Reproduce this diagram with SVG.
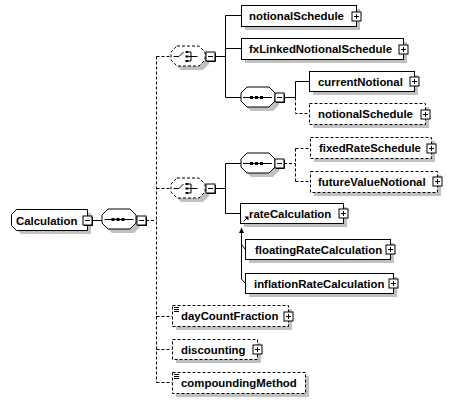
<svg xmlns="http://www.w3.org/2000/svg" xmlns:xlink="http://www.w3.org/1999/xlink" width="452" height="402" viewBox="0 0 452 402">
<style>
.box{fill:#fff;stroke:#000;stroke-width:1}
.opt{stroke-dasharray:3,2}
.sh{fill:#c0c0c0;stroke:none}
.ln{fill:none;stroke:#000;stroke-width:1}
.dl{fill:none;stroke:#000;stroke-width:1;stroke-dasharray:3,2}
.t{font-family:"Liberation Sans",Arial,sans-serif;font-weight:bold;font-size:11.4px;fill:#000}
</style>
<defs>
<g id="plus"><rect x="0.5" y="0.5" width="9" height="9" fill="#fff" stroke="#000"/><path d="M2.5,5H7.5M5,2.5V7.5" stroke="#000" fill="none"/></g>
<g id="minus"><rect x="0.5" y="0.5" width="9" height="9" fill="#fff" stroke="#000"/><path d="M2.5,5H7.5" stroke="#000" fill="none"/><path d="M10,1.5V10H1.5" stroke="#000" fill="none"/></g>
<path id="oct" d="M6.5,0.5H28.5L34.5,6.5V14.5L28.5,20.5H6.5L0.5,14.5V6.5Z"/>
<g id="seqicon"><path d="M3,10.5H32" stroke="#000" fill="none"/><rect x="10" y="9" width="3" height="3"/><rect x="15" y="9" width="3" height="3"/><rect x="20" y="9" width="3" height="3"/></g>
<g id="choiceicon"><path d="M3,10.5H8.5L13,6" stroke="#000" fill="none"/><rect x="15" y="5" width="3" height="2"/><rect x="15" y="9.5" width="3" height="2"/><rect x="15" y="14" width="3" height="2"/><path d="M18,6H20.5V15H18M18,10.5H27" stroke="#000" fill="none"/></g>
</defs>

<g id="connectors">
<path class="ln" d="M92,220.5H102"/>
<path class="dl" d="M146,220.5H156.5"/>
<path class="dl" d="M156.5,56.5V382.5"/>
<path class="dl" d="M156.5,56.5H171M156.5,188.5H171M156.5,316.5H172M156.5,349.5H172M156.5,382.5H172"/>
<path class="ln" d="M215,56.5H225.5M225.5,15.5V97.5M225.5,15.5H241M225.5,48.5H241M225.5,97.5H241"/>
<path class="ln" d="M284,97.5H295.5V81.5H309"/>
<path class="dl" d="M295.5,97.5V113.5H309"/>
<path class="ln" d="M215,188.5H225.5M225.5,163.5V213.5H240M225.5,163.5H241"/>
<path class="dl" d="M284,163.5H295.5M295.5,148.5V181.5M295.5,148.5H310M295.5,181.5H310"/>
<path class="ln" d="M241.5,232V279L245,283M241.5,244.5L245,249"/>
<path d="M241.5,227.5L244,233H239Z" fill="#000"/>
</g>

<g id="Calculation">
<path class="sh" d="M21,213H91V234H21L15,228V219Z"/>
<path class="box" d="M16.5,209.5H87.5V230.5H16.5L11.5,225.5V214.5Z"/>
<text class="t" x="16" y="224.5">Calculation</text>
<use xlink:href="#minus" x="82.5" y="215.5"/>
</g>

<g id="sequence_main">
<use xlink:href="#oct" class="sh" x="105.5" y="212.5"/>
<use xlink:href="#oct" class="box" x="101.5" y="208.5"/>
<use xlink:href="#seqicon" x="101.5" y="209"/>
<use xlink:href="#minus" x="136.5" y="215.5"/>
</g>

<g id="choice_1">
<use xlink:href="#oct" class="sh" x="174.5" y="49.5"/>
<use xlink:href="#oct" class="box opt" x="170.5" y="45.5"/>
<use xlink:href="#choiceicon" x="170.5" y="46"/>
<use xlink:href="#minus" x="205.5" y="51.5"/>
</g>

<g id="notionalSchedule_1">
<rect class="sh" x="245" y="9" width="115" height="21"/>
<rect class="box" x="241.5" y="5.5" width="115" height="21"/>
<text class="t" x="249" y="20">notionalSchedule</text>
<use xlink:href="#plus" x="351.5" y="11.5"/>
</g>

<g id="fxLinkedNotionalSchedule">
<rect class="sh" x="245" y="42" width="162" height="21"/>
<rect class="box" x="241.5" y="38.5" width="162" height="21"/>
<text class="t" x="249" y="53">fxLinkedNotionalSchedule</text>
<use xlink:href="#plus" x="398.5" y="44.5"/>
</g>

<g id="sequence_1">
<use xlink:href="#oct" class="sh" x="244.5" y="90.5"/>
<use xlink:href="#oct" class="box" x="240.5" y="86.5"/>
<use xlink:href="#seqicon" x="240" y="87"/>
<use xlink:href="#minus" x="274.5" y="92.5"/>
</g>

<g id="currentNotional">
<rect class="sh" x="313" y="75" width="105" height="20"/>
<rect class="box" x="309.5" y="71.5" width="105" height="20"/>
<text class="t" x="318" y="86">currentNotional</text>
<use xlink:href="#plus" x="409.5" y="76.5"/>
</g>

<g id="notionalSchedule_2">
<rect class="sh" x="313" y="107" width="116" height="21"/>
<rect class="box opt" x="309.5" y="103.5" width="116" height="21"/>
<text class="t" x="318" y="118">notionalSchedule</text>
<use xlink:href="#plus" x="420.5" y="109.5"/>
</g>

<g id="choice_2">
<use xlink:href="#oct" class="sh" x="174.5" y="181.5"/>
<use xlink:href="#oct" class="box opt" x="170.5" y="177.5"/>
<use xlink:href="#choiceicon" x="170.5" y="178"/>
<use xlink:href="#minus" x="205.5" y="183.5"/>
</g>

<g id="sequence_2">
<use xlink:href="#oct" class="sh" x="244.5" y="156.5"/>
<use xlink:href="#oct" class="box" x="240.5" y="152.5"/>
<use xlink:href="#seqicon" x="240" y="153"/>
<use xlink:href="#minus" x="274.5" y="158.5"/>
</g>

<g id="fixedRateSchedule">
<rect class="sh" x="314" y="141" width="121" height="21"/>
<rect class="box opt" x="310.5" y="137.5" width="121" height="21"/>
<text class="t" x="319" y="152">fixedRateSchedule</text>
<use xlink:href="#plus" x="426.5" y="143.5"/>
</g>

<g id="futureValueNotional">
<rect class="sh" x="314" y="175" width="127" height="21"/>
<rect class="box opt" x="310.5" y="171.5" width="127" height="21"/>
<text class="t" x="318" y="186">futureValueNotional</text>
<use xlink:href="#plus" x="432.5" y="176.5"/>
</g>

<g id="rateCalculation">
<rect class="sh" x="244" y="207" width="103" height="20"/>
<rect class="box" x="240.5" y="203.5" width="103" height="20"/>
<text class="t" x="249" y="218">rateCalculation</text>
<use xlink:href="#plus" x="338.5" y="208.5"/>
<path d="M243.5,221.5L247,218" stroke="#000" fill="none"/>
<path d="M248.5,216.5V220.5L244.5,216.5Z" fill="#000"/>
</g>

<g id="floatingRateCalculation">
<rect class="sh" x="249" y="243" width="145" height="20"/>
<rect class="box" x="245.5" y="239.5" width="145" height="20"/>
<text class="t" x="255" y="254">floatingRateCalculation</text>
<use xlink:href="#plus" x="385.5" y="244.5"/>
</g>

<g id="inflationRateCalculation">
<rect class="sh" x="249" y="277" width="148" height="20"/>
<rect class="box" x="245.5" y="273.5" width="148" height="20"/>
<text class="t" x="254" y="288">inflationRateCalculation</text>
<use xlink:href="#plus" x="388.5" y="278.5"/>
</g>

<g id="dayCountFraction">
<rect class="sh" x="176" y="309" width="116" height="21"/>
<rect class="box opt" x="172.5" y="305.5" width="116" height="21"/>
<path d="M174,307.5H179M174,309.5H179M174,311.5H179" stroke="#000" fill="none"/>
<text class="t" x="181" y="320">dayCountFraction</text>
<use xlink:href="#plus" x="283.5" y="311.5"/>
</g>

<g id="discounting">
<rect class="sh" x="176" y="343" width="85" height="20"/>
<rect class="box opt" x="172.5" y="339.5" width="85" height="20"/>
<text class="t" x="181" y="354">discounting</text>
<use xlink:href="#plus" x="252.5" y="344.5"/>
</g>

<g id="compoundingMethod">
<rect class="sh" x="176" y="376" width="133" height="21"/>
<rect class="box opt" x="172.5" y="372.5" width="133" height="21"/>
<path d="M174,374.5H179M174,376.5H179M174,378.5H179" stroke="#000" fill="none"/>
<text class="t" x="181" y="387">compoundingMethod</text>
</g>
</svg>
